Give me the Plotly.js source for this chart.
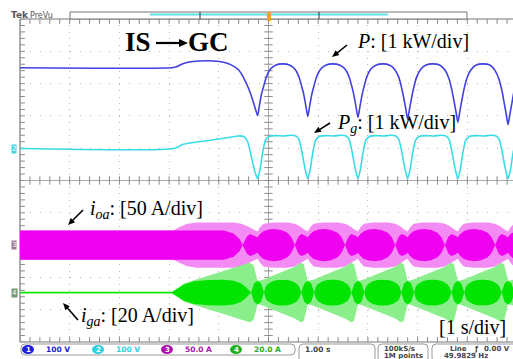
<!DOCTYPE html>
<html><head><meta charset="utf-8">
<script src="https://cdn.plot.ly/plotly-3.0.1.min.js"></script>
<style>html,body{margin:0;padding:0;background:#fff}#c{width:513px;height:359px}</style>
</head><body><div id="c"></div>
<script>
// ---- data (time in s = divisions, values in divisions) ----
const pT = [0,3.06,3.15,3.25,3.40,3.60,3.90,4.10,4.25,4.40,4.50,4.60,4.68,4.74,4.78,
4.82,4.86,4.90,4.96,5.04,5.14,5.285,5.43,5.53,5.61,5.67,5.71,5.75,5.79,
5.83,5.87,5.91,5.97,6.05,6.15,6.295,6.44,6.54,6.62,6.68,6.72,6.76,6.80,
6.84,6.88,6.92,6.98,7.06,7.16,7.30,7.44,7.54,7.62,7.68,7.72,7.76,7.80,
7.84,7.88,7.92,7.98,8.06,8.16,8.305,8.45,8.55,8.63,8.69,8.73,8.77,8.81,
8.85,8.89,8.93,8.99,9.07,9.17,9.315,9.46,9.56,9.64,9.70,9.74,9.78,9.82,
9.86,9.90,9.94,10.0];
const pV = [3.49,3.49,3.52,3.60,3.67,3.70,3.70,3.66,3.58,3.42,3.18,2.85,2.50,2.20,2.01,
2.35,2.68,2.90,3.22,3.45,3.57,3.61,3.57,3.45,3.22,2.90,2.66,2.32,1.98,
2.32,2.66,2.90,3.22,3.45,3.57,3.61,3.57,3.45,3.22,2.89,2.63,2.29,1.95,
2.29,2.63,2.89,3.22,3.45,3.57,3.61,3.57,3.44,3.20,2.86,2.57,2.24,1.90,
2.24,2.57,2.86,3.20,3.44,3.57,3.61,3.57,3.42,3.16,2.80,2.48,2.14,1.80,
2.14,2.48,2.80,3.16,3.42,3.57,3.61,3.57,3.40,3.12,2.76,2.42,2.08,1.73,
2.08,2.42,2.76,3.10];

const pgT = [0,3.10,3.26,3.46,3.80,4.20,4.40,4.50,4.58,4.66,4.73,4.78,
4.83,4.88,4.94,5.02,5.15,5.30,5.45,5.55,5.61,5.67,5.73,5.79,
5.84,5.89,5.95,6.03,6.16,6.31,6.46,6.56,6.62,6.68,6.74,6.80,
6.85,6.90,6.96,7.04,7.17,7.32,7.46,7.56,7.62,7.68,7.74,7.80,
7.85,7.90,7.96,8.04,8.17,8.32,8.47,8.57,8.63,8.69,8.75,8.81,
8.86,8.91,8.97,9.05,9.18,9.33,9.48,9.58,9.64,9.70,9.76,9.82,
9.87,9.92,9.98];
const pgV = [0.99,0.99,1.11,1.17,1.24,1.33,1.38,1.36,1.20,0.70,0.25,0.06,
0.35,0.85,1.25,1.37,1.39,1.38,1.40,1.38,1.28,0.90,0.40,0.06,
0.35,0.85,1.25,1.37,1.39,1.38,1.40,1.38,1.28,0.90,0.40,0.06,
0.35,0.85,1.25,1.37,1.39,1.38,1.40,1.38,1.28,0.90,0.40,0.06,
0.35,0.85,1.25,1.37,1.39,1.38,1.40,1.38,1.28,0.90,0.40,0.06,
0.35,0.85,1.25,1.37,1.39,1.38,1.40,1.38,1.28,0.90,0.40,0.06,
0.35,0.85,1.25];

// i_oa (magenta) envelope: centre level and half-widths
const ioaLevel = -2.00;
const ioaLightT = [0,3.08,3.20,3.35,3.55,4.30,4.45,4.58,4.70,4.78,
4.83,4.90,5.08,5.38,5.53,5.63,5.72,5.79,
5.84,5.91,6.09,6.39,6.54,6.64,6.73,6.80,
6.85,6.92,7.10,7.40,7.55,7.65,7.73,7.80,
7.85,7.92,8.10,8.40,8.55,8.65,8.74,8.81,
8.86,8.93,9.11,9.41,9.56,9.66,9.75,9.82,
9.87,9.94,10.0];
const ioaLightH = [0.45,0.45,0.55,0.65,0.70,0.70,0.66,0.58,0.48,0.42,
0.55,0.66,0.70,0.70,0.66,0.58,0.48,0.42,
0.55,0.66,0.70,0.70,0.66,0.58,0.48,0.42,
0.55,0.66,0.70,0.70,0.66,0.58,0.48,0.42,
0.55,0.66,0.70,0.70,0.66,0.58,0.48,0.42,
0.55,0.66,0.70,0.70,0.66,0.58,0.48,0.42,
0.55,0.66,0.70];
const ioaDarkT = [0,3.08,3.50,4.10,4.30,4.42,4.48,4.56,4.63,4.70,4.78,
4.83,4.90,5.00,5.12,5.25,5.38,5.46,5.53,5.60,5.66,5.73,5.79,
5.84,5.91,6.01,6.13,6.26,6.39,6.47,6.54,6.61,6.67,6.74,6.80,
6.85,6.92,7.02,7.14,7.27,7.40,7.48,7.55,7.62,7.68,7.75,7.80,
7.85,7.92,8.02,8.14,8.27,8.40,8.48,8.55,8.62,8.68,8.75,8.81,
8.86,8.93,9.03,9.15,9.28,9.41,9.49,9.56,9.63,9.69,9.76,9.82,
9.87,9.94,10.0];
const ioaDarkH = [0.45,0.45,0.46,0.45,0.36,0.18,0.0,0.25,0.34,0.30,0.24,
0.34,0.43,0.48,0.50,0.47,0.38,0.24,0.0,0.26,0.34,0.30,0.24,
0.34,0.43,0.48,0.50,0.47,0.38,0.24,0.0,0.26,0.34,0.30,0.24,
0.34,0.43,0.48,0.50,0.47,0.38,0.24,0.0,0.26,0.34,0.30,0.24,
0.34,0.43,0.48,0.50,0.47,0.38,0.24,0.0,0.26,0.34,0.30,0.24,
0.34,0.43,0.48,0.50,0.47,0.38,0.24,0.0,0.26,0.34,0.30,0.24,
0.34,0.43,0.48];

// i_ga (green) envelope
const igaLevel = -3.47;
const igaLightT = [0,3.06,3.15,3.30,3.50,3.80,4.10,4.40,4.62,4.70,4.74,4.78,
4.84,4.93,5.13,5.33,5.53,5.65,5.71,5.75,5.79,
5.85,5.94,6.14,6.34,6.54,6.66,6.72,6.76,6.80,
6.86,6.95,7.15,7.35,7.55,7.66,7.72,7.76,7.80,
7.86,7.95,8.15,8.35,8.55,8.67,8.73,8.77,8.81,
8.87,8.96,9.16,9.36,9.56,9.68,9.74,9.78,9.82,
9.88,9.97];
const igaLightH = [0.03,0.03,0.12,0.28,0.38,0.52,0.66,0.80,0.92,0.85,0.62,0.36,
0.38,0.42,0.55,0.68,0.80,0.92,0.88,0.62,0.36,
0.38,0.42,0.55,0.68,0.80,0.92,0.88,0.62,0.36,
0.38,0.42,0.55,0.68,0.80,0.92,0.88,0.62,0.36,
0.38,0.42,0.55,0.68,0.80,0.92,0.88,0.62,0.36,
0.38,0.42,0.55,0.68,0.80,0.92,0.88,0.62,0.36,
0.38,0.42];
const igaDarkT = [0,3.06,3.15,3.30,3.50,3.80,4.10,4.30,4.45,4.55,4.65,4.71,4.78,4.85,4.91,
4.94,4.98,5.08,5.18,5.28,5.38,5.48,5.58,5.62,5.66,5.72,5.79,5.86,5.92,
5.95,5.99,6.09,6.19,6.29,6.39,6.49,6.59,6.63,6.67,6.73,6.80,6.87,6.93,
6.96,7.00,7.10,7.20,7.30,7.40,7.50,7.60,7.64,7.67,7.73,7.80,7.87,7.93,
7.96,8.00,8.10,8.20,8.30,8.40,8.50,8.60,8.64,8.68,8.74,8.81,8.88,8.94,
8.97,9.01,9.11,9.21,9.31,9.41,9.51,9.61,9.65,9.69,9.75,9.82,9.89,9.95,
9.98];
const igaDarkH = [0.02,0.02,0.10,0.25,0.35,0.39,0.40,0.37,0.28,0.16,0.0,0.28,0.37,0.28,0.0,
0.17,0.26,0.35,0.39,0.40,0.39,0.35,0.26,0.17,0.0,0.28,0.37,0.28,0.0,
0.17,0.26,0.35,0.39,0.40,0.39,0.35,0.26,0.17,0.0,0.28,0.37,0.28,0.0,
0.17,0.26,0.35,0.39,0.40,0.39,0.35,0.26,0.17,0.0,0.28,0.37,0.28,0.0,
0.17,0.26,0.35,0.39,0.40,0.39,0.35,0.26,0.17,0.0,0.28,0.37,0.28,0.0,
0.17,0.26,0.35,0.39,0.40,0.39,0.35,0.26,0.17,0.0,0.28,0.37,0.28,0.0,
0.17];

const chLabels = ['1','2','3','4'];
const chScales = ['100 V','100 V','50.0 A','20.0 A'];

// ---- helpers ----
const W=513,H=359,L=20,R=0,TOP=19,B=17;
const PW=W-L-R, PH=H-TOP-B;
const X = px => (px-L)/PW;
const Y = py => (H-B-py)/PH;
function band(t,h,c,color){
  const xs=t.concat(t.slice().reverse());
  const ys=t.map((v,i)=>c+h[i]).concat(t.map((v,i)=>c-h[i]).reverse());
  return {x:xs,y:ys,mode:'lines',fill:'toself',fillcolor:color,line:{width:0,color:color},hoverinfo:'skip',showlegend:false};
}
const xmax = (W-L)/49.7;
const tx=[],ty=[];
for(let k=0;k<=50;k++){tx.push(k*0.2);}
for(let k=-25;k<=25;k++){ty.push(k*0.2);}
const tickCol='#8a8a8a';
const traces=[
 {x:tx,y:tx.map(()=>0),mode:'markers',marker:{symbol:'line-ns',size:6,line:{width:1,color:tickCol}},hoverinfo:'skip',showlegend:false},
 {x:tx,y:tx.map(()=>5),mode:'markers',marker:{symbol:'line-ns',size:7,line:{width:1,color:tickCol}},hoverinfo:'skip',showlegend:false},
 {x:tx,y:tx.map(()=>-5),mode:'markers',marker:{symbol:'line-ns',size:7,line:{width:1,color:tickCol}},hoverinfo:'skip',showlegend:false},
 {x:ty.map(()=>5),y:ty,mode:'markers',marker:{symbol:'line-ew',size:6,line:{width:1,color:tickCol}},hoverinfo:'skip',showlegend:false},
 {x:ty.map(()=>0),y:ty,mode:'markers',marker:{symbol:'line-ew',size:7,line:{width:1,color:tickCol}},hoverinfo:'skip',showlegend:false},
 band(ioaLightT,ioaLightH,ioaLevel,'#f48af4'),
 band(ioaDarkT,ioaDarkH,ioaLevel,'#f000f0'),
 band(igaLightT,igaLightH,igaLevel,'#8aee8a'),
 band(igaDarkT,igaDarkH,igaLevel,'#00e400'),
 {x:pgT,y:pgV,mode:'lines',line:{color:'#38dce6',width:1.6,shape:'spline',smoothing:0.6},hoverinfo:'skip',showlegend:false},
 {x:pT,y:pV,mode:'lines',line:{color:'#4040e0',width:1.6,shape:'spline',smoothing:0.6},hoverinfo:'skip',showlegend:false}
];

const serif='Liberation Serif, Times New Roman, serif';
const sans='DejaVu Sans, sans-serif';
function txt(px,py,text,size,opts){
  return Object.assign({xref:'paper',yref:'paper',x:X(px),y:Y(py),text:text,showarrow:false,
    xanchor:'left',yanchor:'middle',font:{family:serif,size:size,color:'#000'}},opts||{});
}
const shapes=[];
function arrow(hx,hy,tx_,ty_,w,len,hw){
  len=len||7; hw=hw||3; w=w||1.6;
  const dx=hx-tx_,dy=hy-ty_,d=Math.hypot(dx,dy),ux=dx/d,uy=dy/d;
  const bx=hx-ux*len,by=hy-uy*len,nx=-uy,ny=ux;
  shapes.push({type:'line',xref:'paper',yref:'paper',x0:X(tx_),y0:Y(ty_),x1:X(bx+ux*1),y1:Y(by+uy*1),line:{color:'#000',width:w}});
  shapes.push({type:'path',xref:'paper',yref:'paper',
    path:`M ${X(hx)} ${Y(hy)} L ${X(bx+nx*hw)} ${Y(by+ny*hw)} L ${X(bx-nx*hw)} ${Y(by-ny*hw)} Z`,
    fillcolor:'#000',line:{width:0}});
}
arrow(188,43,156,43,2.2,9,4);
arrow(332,57,347,45);
arrow(314,133,330,123);
arrow(68,225,83,210);
arrow(63,303,78,320);
const annotations=[
 txt(123,42,'<b>IS</b>',27),
 txt(186,42,'<b>GC</b>',27),
 txt(355,41,'<i>P</i>: [1 kW/div]',20),
 txt(335,123,'<i>P</i><sub><i>g</i></sub>: [1 kW/div]',20),
 txt(88,210,'<i>i</i><sub><i>oa</i></sub>: [50 A/div]',20),
 txt(79,316,'<i>i</i><sub><i>ga</i></sub>: [20 A/div]',20),
 txt(437,327,'[1 s/div]',20),
 txt(9,15,'<b>Tek</b>',9,{font:{family:sans,size:9,color:'#555'}}),
 txt(28,15,'PreVu',8,{font:{family:sans,size:8,color:'#555'}}),
 txt(14,149,'2',7,{xanchor:'center',font:{family:sans,size:7,color:'#fff'},bgcolor:'#40d8e0',borderpad:0}),
 txt(14,245,'3',7,{xanchor:'center',font:{family:sans,size:7,color:'#fff'},bgcolor:'#a07898',borderpad:0}),
 txt(14,293,'4',7,{xanchor:'center',font:{family:sans,size:7,color:'#fff'},bgcolor:'#789878',borderpad:0}),
];
const chCol=['#2020e0','#30d0e0','#b010b0','#20b020'];
const chX=[28,98,167,236];
for(let i=0;i<4;i++){
  shapes.push({type:'circle',xref:'paper',yref:'paper',x0:X(chX[i]-6),x1:X(chX[i]+6),y0:Y(354),y1:Y(345),fillcolor:chCol[i],line:{width:0}});
  annotations.push(txt(chX[i],349.5,'<b>'+chLabels[i]+'</b>',7,{xanchor:'center',font:{family:sans,size:7,color:'#fff'}}));
  annotations.push(txt(chX[i]+16,349.5,'<b>'+chScales[i]+'</b>',7.5,{font:{family:sans,size:7.5,color:chCol[i]}}));
}
const gs={family:sans,size:7,color:'#444'};
annotations.push(txt(303,349.5,'<b>1.00 s</b>',7.5,{font:{family:sans,size:7.5,color:'#444'}}));
annotations.push(txt(382,348.5,'<b>100kS/s</b>',7,{font:gs}));
annotations.push(txt(382,355.5,'<b>1M points</b>',7,{font:gs}));
annotations.push(txt(448,348.5,'<b>Line</b>',7,{font:gs}));
annotations.push(txt(472,348.5,'<b>ƒ</b>',7,{font:gs}));
annotations.push(txt(482,348.5,'<b>0.00 V</b>',7,{font:gs}));
annotations.push(txt(442,355.5,'<b>49.9829 Hz</b>',7,{font:gs}));

function rrect(x0,y0,x1,y1,r,col){
  const p=`M ${X(x0+r)} ${Y(y0)} L ${X(x1-r)} ${Y(y0)} Q ${X(x1)} ${Y(y0)} ${X(x1)} ${Y(y0+r)} L ${X(x1)} ${Y(y1-r)} Q ${X(x1)} ${Y(y1)} ${X(x1-r)} ${Y(y1)} L ${X(x0+r)} ${Y(y1)} Q ${X(x0)} ${Y(y1)} ${X(x0)} ${Y(y1-r)} L ${X(x0)} ${Y(y0+r)} Q ${X(x0)} ${Y(y0)} ${X(x0+r)} ${Y(y0)} Z`;
  return {type:'path',xref:'paper',yref:'paper',path:p,line:{color:col,width:1},fillcolor:'rgba(0,0,0,0)'};
}
shapes.push(rrect(21,344,295,355,4,'#9a9a9a'));
shapes.push(rrect(299,344,375,362,4,'#9a9a9a'));
shapes.push(rrect(378,344,428,362,4,'#9a9a9a'));
shapes.push(rrect(432,344,520,362,4,'#9a9a9a'));
shapes.push({type:'rect',xref:'paper',yref:'paper',x0:X(70),x1:X(467),y0:Y(19),y1:Y(12),line:{color:'#777',width:1},fillcolor:'#fff'});
shapes.push({type:'line',xref:'paper',yref:'paper',x0:X(150),x1:X(388),y0:Y(14.5),y1:Y(14.5),line:{color:'#5fe0e8',width:2}});
shapes.push({type:'line',xref:'paper',yref:'paper',x0:X(200),x1:X(200),y0:Y(12),y1:Y(19),line:{color:'#333',width:1}});
shapes.push({type:'line',xref:'paper',yref:'paper',x0:X(319),x1:X(319),y0:Y(12),y1:Y(19),line:{color:'#333',width:1}});
shapes.push({type:'rect',xref:'paper',yref:'paper',x0:X(267),x1:X(271),y0:Y(21),y1:Y(12),line:{width:0},fillcolor:'#f5a030'});
shapes.push({type:'line',xref:'paper',yref:'paper',x0:0,x1:0,y0:0,y1:1,line:{color:'#777',width:1.2},layer:'below'});
shapes.push({type:'line',xref:'paper',yref:'paper',x0:0,x1:1.05,y0:1,y1:1,line:{color:'#777',width:1.2},layer:'below'});
shapes.push({type:'line',xref:'paper',yref:'paper',x0:0,x1:1.05,y0:0,y1:0,line:{color:'#777',width:1.2},layer:'below'});
shapes.push({type:'line',xref:'x',yref:'y',x0:5,x1:5,y0:-5,y1:5,line:{color:'#aaa',width:1},layer:'below'});
shapes.push({type:'line',xref:'x',yref:'y',x0:0,x1:10,y0:0,y1:0,line:{color:'#aaa',width:1},layer:'below'});

const layout={
  width:W,height:H,margin:{l:L,r:R,t:TOP,b:B,pad:0},
  paper_bgcolor:'#fff',plot_bgcolor:'#fff',showlegend:false,
  xaxis:{range:[0,xmax],dtick:1,tick0:0,showgrid:true,gridcolor:'#b8b8b8',griddash:'1px,5.46px',gridwidth:1,
    zeroline:false,showticklabels:false,ticks:'',showline:false,fixedrange:true},
  yaxis:{range:[-5,5],dtick:1,tick0:0,showgrid:true,gridcolor:'#b8b8b8',griddash:'1px,8.94px',gridwidth:1,
    zeroline:false,showticklabels:false,ticks:'',showline:false,fixedrange:true},
  shapes:shapes,annotations:annotations
};
Plotly.newPlot('c',traces,layout,{staticPlot:true,displayModeBar:false});
</script></body></html>
